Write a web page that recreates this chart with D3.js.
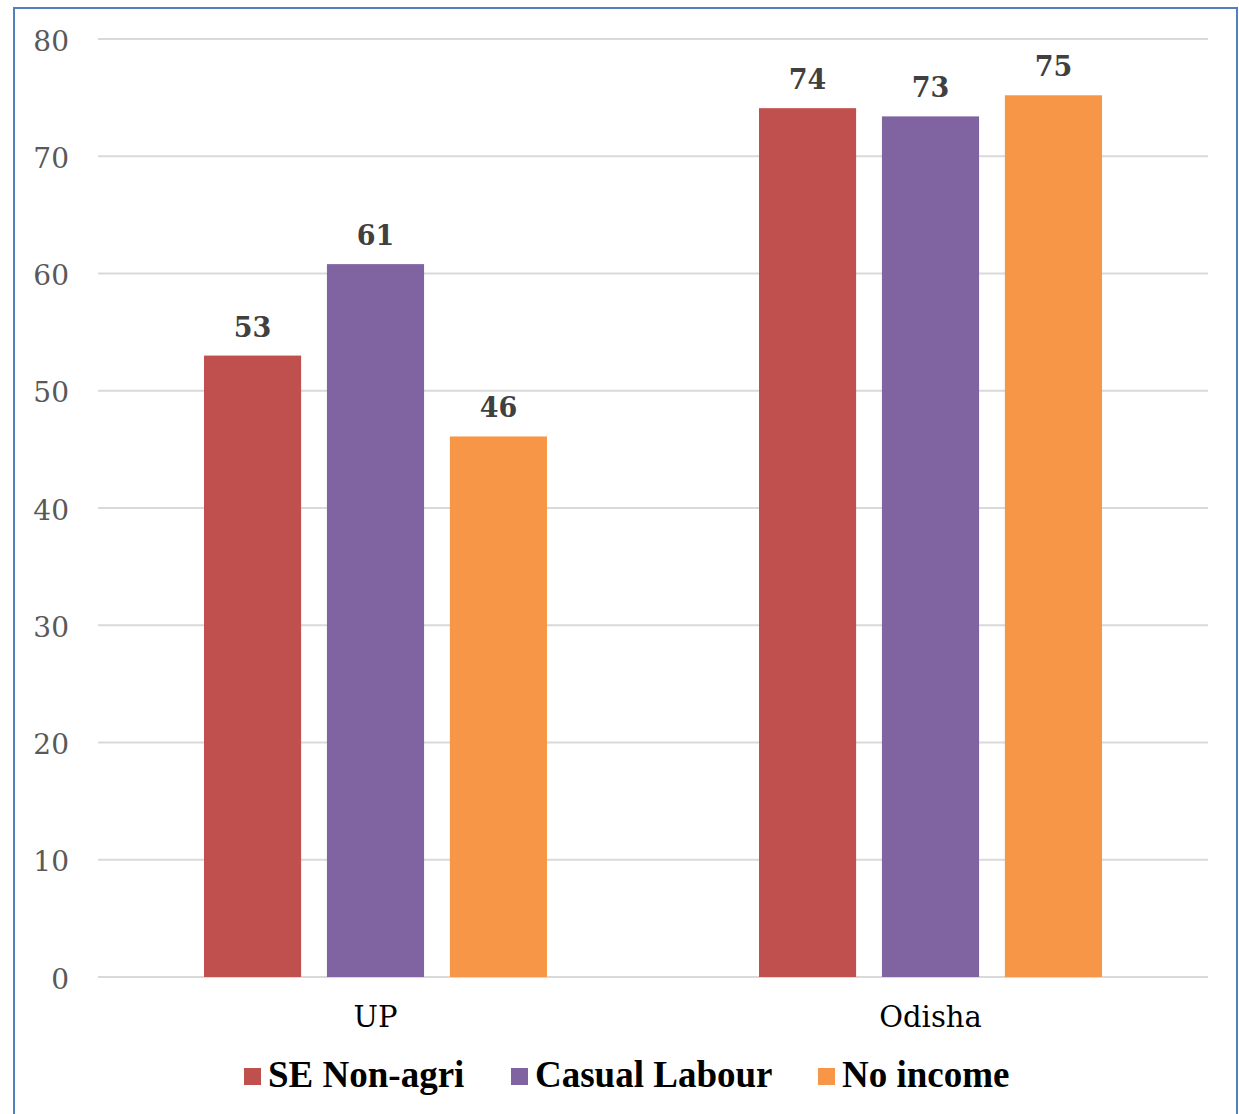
<!DOCTYPE html>
<html>
<head>
<meta charset="utf-8">
<script src="https://cdn.jsdelivr.net/npm/d3@7"></script>
<style>
  body { margin: 0; background: #fff; }
</style>
</head>
<body>
<div id="chart"></div>
<script>
const categories = ["UP", "Odisha"];
const seriesNames = ["SE Non-agri", "Casual Labour", "No income"];
const seNonAgri = [53.0, 74.1];
const casualLabour = [60.8, 73.4];
const noIncome = [46.1, 75.2];
const yTicks = [0, 10, 20, 30, 40, 50, 60, 70, 80];
const colors = ["#c0504d", "#8064a2", "#f79646"];

const series = [seNonAgri, casualLabour, noIncome];

const width = 1239, height = 1114;
const margin = { top: 39, right: 31, bottom: 137, left: 98 };
const w = width - margin.left - margin.right;
const h = height - margin.top - margin.bottom;

const svg = d3.select("#chart").append("svg")
  .attr("width", width)
  .attr("height", height);

// outer frame
svg.append("rect")
  .attr("x", 14).attr("y", 8)
  .attr("width", 1223).attr("height", 1120)
  .attr("fill", "none")
  .attr("stroke", "#4f81bd")
  .attr("stroke-width", 2);

const g = svg.append("g").attr("transform", `translate(${margin.left},${margin.top})`);

const x0 = d3.scaleBand().domain(categories).range([0, w]).paddingInner(0).paddingOuter(0);
const x1 = d3.scaleBand().domain(seriesNames).range([106, x0.bandwidth() - 106]).paddingInner(0.21).paddingOuter(0);
const y = d3.scaleLinear().domain([0, 80]).range([h, 0]);

// gridlines
g.append("g")
  .selectAll("line")
  .data(yTicks)
  .join("line")
  .attr("x1", 0).attr("x2", w)
  .attr("y1", d => y(d)).attr("y2", d => y(d))
  .attr("stroke", "#d9d9d9")
  .attr("stroke-width", 2);

// y tick labels
const yAxis = g.append("g")
  .call(d3.axisLeft(y).tickValues(yTicks).tickSize(0).tickPadding(29));
yAxis.select(".domain").remove();
yAxis.selectAll("text")
  .attr("font-family", "DejaVu Serif")
  .attr("font-size", 28)
  .attr("fill", "#595959")
  .attr("dy", "0.4em");

// bars
const groups = g.selectAll(".grp")
  .data(categories)
  .join("g")
  .attr("class", "grp")
  .attr("transform", d => `translate(${x0(d)},0)`);

groups.selectAll("rect")
  .data((d, i) => seriesNames.map((s, j) => ({ s, j, v: series[j][i] })))
  .join("rect")
  .attr("x", d => x1(d.s))
  .attr("y", d => y(d.v))
  .attr("width", x1.bandwidth())
  .attr("height", d => h - y(d.v))
  .attr("fill", d => colors[d.j]);

groups.selectAll("text.val")
  .data((d, i) => seriesNames.map((s, j) => ({ s, j, v: series[j][i] })))
  .join("text")
  .attr("class", "val")
  .attr("x", d => x1(d.s) + x1.bandwidth() / 2)
  .attr("y", d => y(d.v) - 19)
  .attr("text-anchor", "middle")
  .attr("font-family", "DejaVu Serif")
  .attr("font-weight", "bold")
  .attr("font-size", 27)
  .attr("fill", "#404040")
  .text(d => Math.round(d.v));

// x category labels
const xAxis = g.append("g")
  .attr("transform", `translate(0,${h})`)
  .call(d3.axisBottom(x0).tickSize(0).tickPadding(29));
xAxis.select(".domain").remove();
xAxis.selectAll("text")
  .attr("font-family", "DejaVu Serif")
  .attr("font-size", 29)
  .attr("fill", "#000");

// legend
const legendX = [244, 511, 818];
const legend = svg.append("g");
seriesNames.forEach((s, i) => {
  legend.append("rect")
    .attr("x", legendX[i]).attr("y", 1068)
    .attr("width", 17).attr("height", 17)
    .attr("fill", colors[i]);
  legend.append("text")
    .attr("x", legendX[i] + 24).attr("y", 1087)
    .attr("font-family", "Liberation Serif")
    .attr("font-weight", "bold")
    .attr("font-size", 37)
    .attr("fill", "#000")
    .text(s);
});
</script>
</body>
</html>
